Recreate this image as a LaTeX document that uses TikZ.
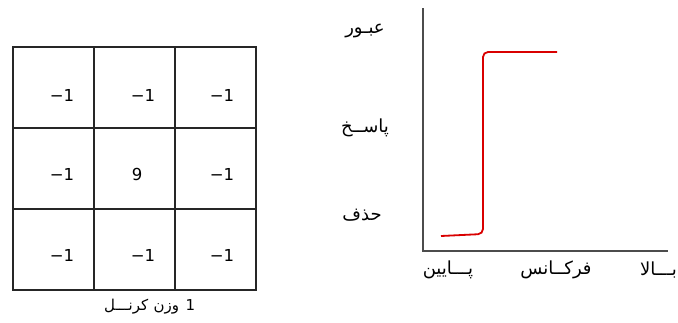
\documentclass[tikz,border=0pt]{standalone}
\usepackage{fontspec}
\usetikzlibrary{positioning}
\setmainfont{DejaVu Sans}
\newfontfamily\farsi[Script=Arabic]{DejaVu Sans}
\TeXXeTstate=1

\begin{document}
\begin{tikzpicture}[x=1pt,y=-1pt,
  num/.style={font=\fontsize{16.5}{18}\selectfont, inner sep=0pt},
  lbl/.style={font=\farsi\fontsize{18}{20}\selectfont, inner sep=0pt},
  caplbl/.style={font=\farsi\fontsize{15}{17}\selectfont, inner sep=0pt},
  gridline/.style={line width=1.3pt, black!85},
  axis/.style={line width=1.3pt, black!70},
  resp/.style={line width=1.8pt, red!85!black, rounded corners=5pt}]
  \useasboundingbox (0,0) rectangle (678,322);

  %kernel grid
  \draw[gridline] (13,47) rectangle (256,290);
  \draw[gridline] (94,47) -- (94,290);
  \draw[gridline] (175,47) -- (175,290);
  \draw[gridline] (13,128) -- (256,128);
  \draw[gridline] (13,209) -- (256,209);

  %kernel values
  \node[num] (k11) at (62,95) {−1};
  \node[num] (k12) at (143,95) {−1};
  \node[num] (k13) at (222,95) {−1};
  \node[num] (k21) at (62,174) {−1};
  \node[num] (k22) at (137,174) {9};
  \node[num] (k23) at (222,174) {−1};
  \node[num] (k31) at (62,255) {−1};
  \node[num] (k32) at (143,255) {−1};
  \node[num] (k33) at (222,255) {−1};

  %caption, word by word
  \node[caplbl,anchor=base west] (capk) at (104,310) {\beginR کرنـــل\endR};
  \node[caplbl,right=5pt of capk.base east,anchor=base west] (capw) {\beginR وزن\endR};
  \node[caplbl,right=6pt of capw.base east,anchor=base west] (capn) {1};

  %response axes
  \coordinate (ytop) at (423,8);
  \coordinate (orig) at (423,251);
  \coordinate (xend) at (668,251);
  \draw[axis] (ytop) -- (orig) -- (xend);

  %response curve
  \draw[resp] (441,236) -- (483,234) -- (483,52) -- (557,52);

  %axis labels
  \node[lbl] (pass) at (365,31) {\beginR عبـور\endR};
  \node[lbl] (answer) at (365,128) {\beginR پاســخ\endR};
  \node[lbl] (stop) at (362,215) {\beginR حذف\endR};
  \node[lbl] (low) at (448,270) {\beginR پـــایین\endR};
  \node[lbl] (freq) at (556,270) {\beginR فرکــانس\endR};
  \node[lbl,anchor=east] (high) at (677,270) {\beginR بـــالا\endR};
\end{tikzpicture}
\end{document}
